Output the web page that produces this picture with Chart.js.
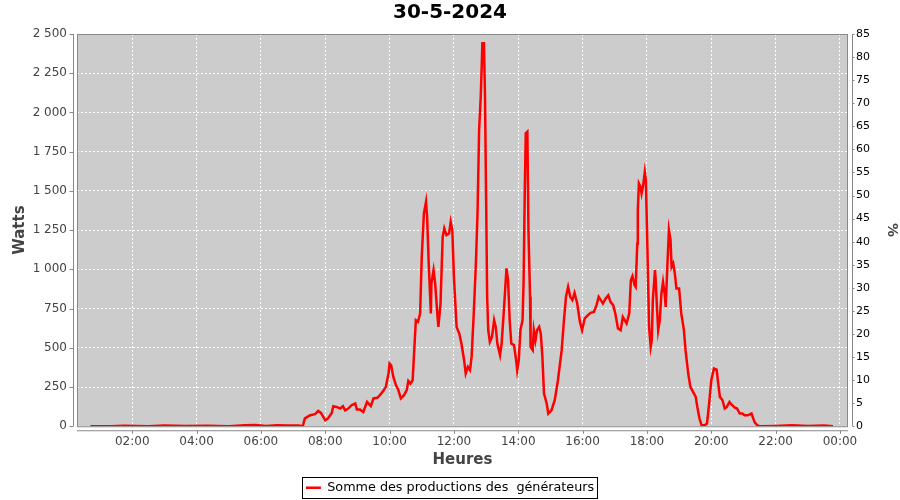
<!DOCTYPE html>
<html>
<head>
<meta charset="utf-8">
<script src="https://cdn.jsdelivr.net/npm/chart.js@4.4.1/dist/chart.umd.min.js"></script>
<style>
  html, body { margin: 0; padding: 0; background: #fff; }
  #wrap { width: 900px; height: 500px; }
</style>
</head>
<body>
<div id="wrap"><canvas id="chart" width="900" height="500"></canvas></div>
<script>
// ── Data ─────────────────────────────────────────────────────────────────

const chartTitle = '30-5-2024';
const seriesName = 'Somme des productions des  générateurs';

const times = [
  '00:42','01:20','01:45','02:30','03:00','03:40','04:20','05:00','05:30','05:50','06:10','06:30','06:50','07:10','07:18',
  '07:22','07:32','07:41','07:47','07:52','08:00','08:05','08:12','08:15','08:21','08:28','08:33','08:37','08:43','08:49',
  '08:56','08:59','09:05','09:11','09:18','09:25','09:30','09:37','09:42','09:48','09:53','09:58',
  '10:00','10:03','10:07','10:12','10:16','10:21','10:27','10:32','10:35','10:39','10:43','10:45','10:49','10:53','10:57',
  '11:00','11:04','11:08','11:10','11:13','11:17','11:18','11:22','11:25','11:29','11:31','11:35','11:39','11:42','11:46','11:51','11:54','11:57',
  '12:00','12:05','12:10','12:14','12:19','12:22','12:26','12:30','12:33','12:37','12:41','12:44','12:47','12:50','12:52','12:53','12:56','12:58',
  '13:00','13:02','13:04','13:07','13:11','13:15','13:18','13:21','13:26','13:29','13:34','13:38','13:41','13:44','13:47','13:52','13:56','13:58',
  '14:01','14:04','14:08','14:10','14:12','14:14','14:17','14:19','14:22','14:23','14:27','14:29','14:32','14:35','14:39','14:42','14:45','14:48','14:53','14:56',
  '15:02','15:08','15:14','15:21','15:25','15:29','15:33','15:37','15:41','15:45','15:50','15:55','15:59',
  '16:04','16:10','16:15','16:21','16:26','16:30','16:34','16:38','16:43','16:48','16:52','16:57',
  '17:01','17:06','17:11','17:15','17:22','17:27','17:30','17:33','17:37','17:39','17:42','17:43','17:45','17:48','17:50','17:53','17:56','17:58',
  '18:00','18:02','18:04','18:07','18:09','18:11','18:15','18:16','18:19','18:21','18:24','18:27','18:30','18:33','18:35','18:38','18:41','18:44','18:46','18:49','18:52','18:55',
  '19:00','19:04','19:09','19:12','19:17','19:21','19:26','19:31','19:34','19:38','19:42','19:48','19:52','19:56',
  '20:00','20:05','20:10','20:13','20:16','20:21','20:25','20:29','20:34','20:39','20:44','20:48','20:53','20:58',
  '21:02','21:08','21:15','21:21','21:26','21:30','22:00','22:30','23:00','23:30','23:47'
];

const watts = [
  0,0,3,0,4,2,3,0,6,8,2,6,4,5,0,
  50,70,77,98,85,38,50,83,128,123,113,128,102,113,134,
  145,106,106,91,155,128,177,181,198,225,251,336,
  400,389,314,261,234,177,198,230,289,272,293,421,676,665,719,
  1080,1357,1431,1335,1038,719,910,995,910,719,633,782,1207,1261,1218,1229,1303,1250,
  952,633,591,527,421,336,378,357,442,719,1038,1357,1888,2100,2313,2441,2441,2100,
  1462,825,612,538,570,676,633,527,453,527,782,1006,931,676,527,517,421,357,
  421,612,676,931,1462,1867,1877,1250,825,506,485,612,548,612,633,591,442,208,145,81,
  102,166,293,485,665,825,888,825,804,850,782,665,612,
  687,708,723,729,772,825,804,782,814,835,793,772,
  719,623,612,697,655,719,931,957,899,888,1165,1378,1548,1526,1484,1537,1622,1569,
  1271,952,633,506,548,804,995,952,740,612,676,846,920,846,761,1016,1250,1186,1016,1038,974,878,
  878,719,612,485,336,251,219,187,123,49,6,6,17,145,
  293,368,361,272,187,166,113,123,155,134,119,113,81,81,
  70,70,81,25,6,0,2,6,2,4,0
];

// x axis: hours of the day, ticks every 2 hours (24 shown as 00:00)
const hourTicks = [2, 4, 6, 8, 10, 12, 14, 16, 18, 20, 22, 24];
const hourMin = 17 / 60;
const hourMax = 24.25;

const wattMax = 2500, wattStep = 250;
const pctMax = 85, pctStep = 5;

// ── Helpers ───────────────────────────────────────────────────────────────

const toHours = t => {
  const [h, m] = t.split(':').map(Number);
  return h + m / 60;
};
const fmtHour = v => String(Math.round(v) % 24).padStart(2, '0') + ':00';
const fmtWatts = v => String(v).replace(/\B(?=(\d{3})+(?!\d))/g, ' ');

const FONT = "'DejaVu Sans', sans-serif";
const TICK_COLOR = '#444444';
const AXIS_COLOR = '#888888';

// plot background, plot outline, offset axis lines with tick marks, legend frame
const plotDeco = {
  id: 'plotDeco',
  beforeDraw(chart) {
    const { ctx, chartArea: a } = chart;
    ctx.save();
    ctx.fillStyle = '#cccccc';
    ctx.fillRect(a.left, a.top, a.right - a.left, a.bottom - a.top);
    ctx.restore();
  },
  afterDraw(chart) {
    const { ctx, chartArea: a, scales } = chart;
    ctx.save();
    ctx.strokeStyle = AXIS_COLOR;
    ctx.lineWidth = 1;
    ctx.strokeRect(a.left + 0.5, a.top + 0.5, a.right - a.left - 1, a.bottom - a.top);

    // left axis
    const lx = a.left - 3.5;
    ctx.beginPath();
    ctx.moveTo(lx, a.top); ctx.lineTo(lx, a.bottom);
    scales.y.ticks.forEach(t => {
      const py = Math.round(scales.y.getPixelForValue(t.value)) + 0.5;
      ctx.moveTo(lx - 4, py); ctx.lineTo(lx, py);
    });
    // right axis
    const rx = a.right + 4.5;
    ctx.moveTo(rx, a.top); ctx.lineTo(rx, a.bottom);
    scales.y2.ticks.forEach(t => {
      const py = Math.round(scales.y2.getPixelForValue(t.value)) + 0.5;
      ctx.moveTo(rx, py); ctx.lineTo(rx + 2, py);
    });
    // bottom axis
    const by = a.bottom + 4.5;
    ctx.moveTo(a.left, by); ctx.lineTo(a.right, by);
    scales.x.ticks.forEach(t => {
      const px = Math.round(scales.x.getPixelForValue(t.value)) + 0.5;
      ctx.moveTo(px, by); ctx.lineTo(px, by + 3);
    });
    ctx.stroke();

    // legend frame, centred on the legend item
    const hb = chart.legend && chart.legend.legendHitBoxes && chart.legend.legendHitBoxes[0];
    if (hb) {
      const cy = Math.round(hb.top + hb.height / 2);
      ctx.strokeStyle = '#000';
      ctx.strokeRect(Math.round(hb.left) - 3.5, cy - 10.5,
                     Math.round(hb.width) + 7, 21);
    }
    ctx.restore();
  }
};

// ── Chart ─────────────────────────────────────────────────────────────────

new Chart(document.getElementById('chart').getContext('2d'), {
  type: 'line',
  data: {
    datasets: [{
      label: seriesName,
      data: times.map((t, i) => ({ x: toHours(t), y: watts[i] })),
      borderColor: '#ff0000',
      backgroundColor: '#ff0000',
      borderWidth: 2.5,
      pointRadius: 0,
      pointStyle: 'line',
      tension: 0,
      fill: false,
      yAxisID: 'y',
    }]
  },
  options: {
    responsive: false,
    animation: false,
    layout: { padding: { top: 0, left: 0, right: 0, bottom: -4 } },
    plugins: {
      title: {
        display: true,
        text: chartTitle,
        color: '#000',
        font: { family: FONT, size: 20, weight: 'bold' },
        padding: { top: 1, bottom: 9 },
      },
      legend: {
        position: 'bottom',
        labels: {
          color: '#000',
          font: { family: FONT, size: 12.75 },
          usePointStyle: true,
          pointStyleWidth: 15,
          padding: 6,
        }
      },
      tooltip: { enabled: false },
    },
    scales: {
      x: {
        type: 'linear',
        min: hourMin,
        max: hourMax,
        afterBuildTicks: s => { s.ticks = hourTicks.map(v => ({ value: v })); },
        afterFit: s => { s.height = 49; },
        ticks: {
          callback: v => fmtHour(v),
          color: TICK_COLOR,
          font: { family: FONT, size: 12 },
          padding: 8,
          maxRotation: 0,
          autoSkip: false,
        },
        grid: { color: '#ffffff', lineWidth: 1, drawTicks: false },
        border: { display: false, dash: [2, 2] },
        title: {
          display: true,
          text: 'Heures',
          color: TICK_COLOR,
          font: { family: FONT, size: 15, weight: 'bold' },
          padding: { top: 0, bottom: 6 },
        },
      },
      y: {
        position: 'left',
        min: 0,
        max: wattMax,
        afterFit: s => { s.width = 77; },
        ticks: {
          stepSize: wattStep,
          callback: v => fmtWatts(v),
          color: TICK_COLOR,
          font: { family: FONT, size: 12 },
          padding: 10,
        },
        grid: { color: '#ffffff', lineWidth: 1, drawTicks: false },
        border: { display: false, dash: [2, 2] },
        title: {
          display: true,
          text: 'Watts',
          color: TICK_COLOR,
          font: { family: FONT, size: 15, weight: 'bold' },
          padding: { top: 11, bottom: 0 },
        },
      },
      y2: {
        position: 'right',
        min: 0,
        max: pctMax,
        afterFit: s => { s.width = 52; },
        ticks: {
          stepSize: pctStep,
          color: '#000',
          font: { family: FONT, size: 11 },
          padding: 8,
        },
        grid: { drawOnChartArea: false, drawTicks: false },
        border: { display: false },
        title: {
          display: true,
          text: '%',
          color: TICK_COLOR,
          font: { family: FONT, size: 14, weight: 'bold' },
          padding: { top: 0, bottom: 9 },
        },
      },
    }
  },
  plugins: [plotDeco]
});
</script>
</body>
</html>
